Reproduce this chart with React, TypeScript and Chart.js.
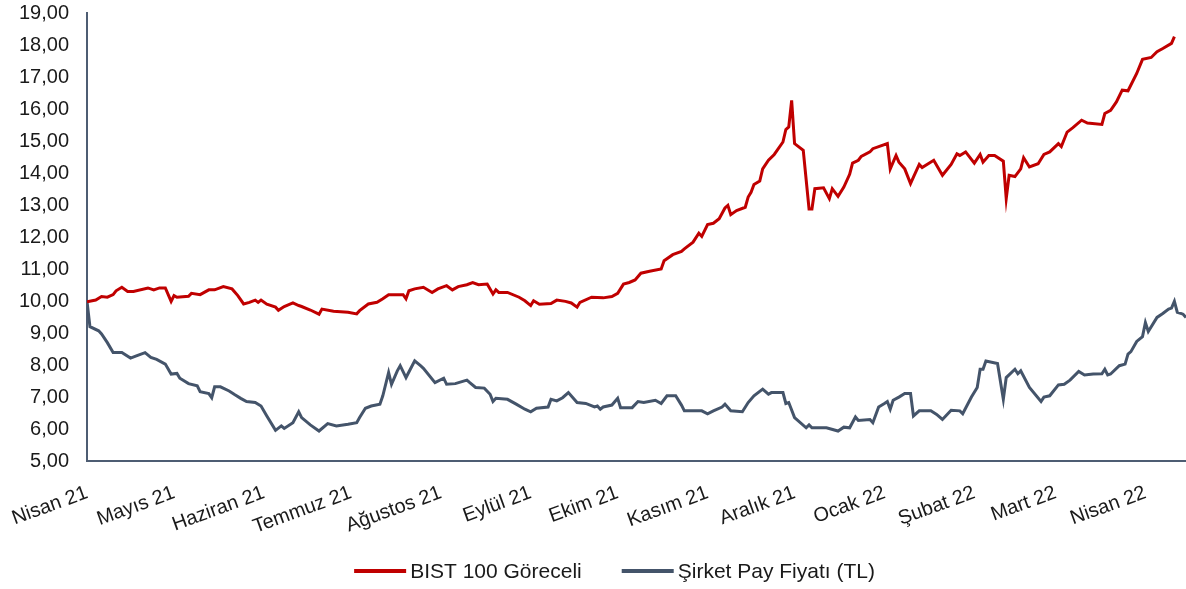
import { useEffect, useRef } from 'react';
import { Chart, registerables } from 'chart.js';

Chart.register(...registerables);

// Calendar-day offsets from 1 April 2021 for month ticks
const monthDays = [0, 30, 61, 91, 122, 153, 183, 214, 244, 275, 306, 334, 365];
const monthLabels = [
  'Nisan 21', 'Mayıs 21', 'Haziran 21', 'Temmuz 21', 'Ağustos 21', 'Eylül 21', 'Ekim 21',
  'Kasım 21', 'Aralık 21', 'Ocak 22', 'Şubat 22', 'Mart 22', 'Nisan 22',
];

const bistDays = [
  0, 3, 5, 7, 9, 10, 12, 14, 16, 21,
  23, 25, 27, 29, 30, 31, 35, 36, 39, 42,
  44, 47, 50, 52, 54, 56, 58, 59, 60, 62,
  65, 66, 68, 71, 73, 74, 77, 80, 81, 85,
  90, 93, 94, 97, 100, 102, 104, 109, 110, 111,
  113, 116, 119, 121, 124, 126, 128, 131, 133, 135,
  138, 140, 141, 142, 145, 149, 151, 153, 154, 156,
  160, 162, 165, 167, 169, 170, 174, 178, 181, 183,
  185, 187, 189, 191, 194, 198, 199, 202, 205, 206,
  209, 211, 212, 214, 216, 218, 220, 221, 222, 224,
  227, 228, 229, 230, 232, 233, 235, 237, 240, 241,
  242, 243, 244, 247, 249, 250, 251, 254, 256, 257,
  259, 261, 263, 264, 266, 267, 270, 271, 276, 277,
  279, 280, 282, 284, 285, 287, 288, 292, 295, 298,
  300, 301, 303, 306, 308, 309, 311, 313, 316, 317,
  318, 320, 322, 323, 325, 328, 330, 332, 335, 336,
  338, 340, 343, 345, 350, 351, 353, 355, 357, 359,
  362, 364, 367, 369, 371, 374, 375,
];
const bistValues = [
  9.98, 10.03, 10.14, 10.12, 10.2, 10.32, 10.43, 10.3, 10.3, 10.41,
  10.35, 10.41, 10.41, 9.99, 10.17, 10.12, 10.15, 10.24, 10.2, 10.35,
  10.35, 10.45, 10.38, 10.17, 9.91, 9.96, 10.03, 9.96, 10.03, 9.9,
  9.81, 9.71, 9.83, 9.94, 9.86, 9.83, 9.72, 9.59, 9.75, 9.68,
  9.65, 9.6, 9.7, 9.91, 9.96, 10.07, 10.2, 10.2, 10.07, 10.32,
  10.38, 10.43, 10.27, 10.38, 10.48, 10.35, 10.45, 10.51, 10.58, 10.51,
  10.53, 10.22, 10.35, 10.27, 10.27, 10.12, 10.01, 9.86, 10.01, 9.9,
  9.92, 10.03, 9.99, 9.94, 9.81, 9.96, 10.12, 10.1, 10.14, 10.24,
  10.53, 10.58, 10.66, 10.87, 10.93, 11.0, 11.26, 11.45, 11.55, 11.63,
  11.84, 12.12, 12.02, 12.39, 12.43, 12.57, 12.91, 12.99, 12.7, 12.83,
  12.93, 13.25, 13.4, 13.64, 13.75, 14.13, 14.4, 14.58, 14.97, 15.36,
  15.44, 16.27, 14.92, 14.71, 12.88, 12.88, 13.51, 13.54, 13.2, 13.51,
  13.27, 13.56, 13.96, 14.31, 14.4, 14.52, 14.66, 14.76, 14.92, 14.13,
  14.55, 14.34, 14.13, 13.67, 13.87, 14.27, 14.17, 14.4, 13.93, 14.27,
  14.6, 14.55, 14.66, 14.31, 14.58, 14.34, 14.55, 14.55, 14.37, 13.2,
  13.93, 13.89, 14.13, 14.48, 14.19, 14.29, 14.58, 14.66, 14.92, 14.83,
  15.28, 15.42, 15.65, 15.56, 15.52, 15.86, 15.96, 16.22, 16.59, 16.57,
  17.11, 17.55, 17.61, 17.79, 17.89, 18.05, 18.26,
];

const sirketDays = [
  0, 1, 4, 5, 7, 9, 12, 15, 17, 20,
  22, 24, 27, 29, 31, 32, 35, 38, 39, 42,
  43, 44, 46, 49, 51, 53, 55, 58, 60, 62,
  65, 67, 68, 71, 73, 74, 77, 80, 83, 86,
  90, 93, 94, 96, 98, 101, 102, 104, 105, 107,
  108, 110, 113, 115, 116, 120, 123, 124, 127, 131,
  132, 134, 137, 139, 140, 141, 145, 148, 151, 153,
  155, 159, 160, 162, 164, 166, 169, 172, 175, 176,
  177, 178, 181, 183, 184, 188, 190, 192, 196, 198,
  200, 203, 205, 206, 212, 214, 216, 219, 220, 222,
  226, 228, 230, 233, 235, 236, 240, 241, 242, 244,
  248, 249, 250, 255, 259, 261, 263, 265, 266, 270,
  271, 273, 275, 276, 277, 278, 280, 282, 284, 285,
  287, 291, 293, 295, 298, 301, 302, 305, 307, 308,
  309, 310, 314, 316, 317, 320, 321, 322, 325, 329,
  330, 332, 335, 337, 339, 342, 344, 347, 350, 351,
  352, 353, 356, 358, 359, 360, 362, 364, 365, 366,
  369, 371, 373, 374, 375, 376, 378, 379,
];
const sirketValues = [
  9.98, 9.2, 9.07, 8.97, 8.7, 8.39, 8.39, 8.22, 8.29, 8.39,
  8.24, 8.18, 8.03, 7.72, 7.74, 7.59, 7.42, 7.35, 7.17, 7.11,
  6.98, 7.32, 7.32, 7.19, 7.07, 6.96, 6.86, 6.83, 6.72, 6.41,
  5.96, 6.1, 6.02, 6.2, 6.54, 6.36, 6.13, 5.94, 6.17, 6.1,
  6.15, 6.2, 6.36, 6.65, 6.72, 6.78, 7.04, 7.77, 7.4, 7.82,
  7.98, 7.61, 8.13, 7.98, 7.9, 7.45, 7.59, 7.4, 7.42, 7.53,
  7.45, 7.3, 7.28, 7.09, 6.86, 6.96, 6.93, 6.78, 6.62, 6.54,
  6.65, 6.69, 6.93, 6.88, 6.98, 7.14, 6.83, 6.8, 6.69, 6.72,
  6.62, 6.69, 6.75, 6.96, 6.67, 6.67, 6.86, 6.83, 6.9, 6.8,
  7.04, 7.04, 6.75, 6.57, 6.57, 6.48, 6.57, 6.69, 6.78, 6.57,
  6.54, 6.83, 7.04, 7.25, 7.09, 7.14, 7.14, 6.8, 6.83, 6.36,
  6.04, 6.13, 6.04, 6.04, 5.94, 6.06, 6.04, 6.38, 6.27, 6.3,
  6.2, 6.69, 6.8, 6.86, 6.62, 6.9, 7.0, 7.11, 7.11, 6.41,
  6.57, 6.57, 6.46, 6.3, 6.59, 6.57, 6.48, 7.0, 7.3, 7.87,
  7.87, 8.13, 8.05, 6.93, 7.61, 7.87, 7.73, 7.82, 7.3, 6.86,
  7.0, 7.04, 7.38, 7.4, 7.53, 7.8, 7.69, 7.72, 7.73, 7.87,
  7.69, 7.72, 7.98, 8.03, 8.34, 8.42, 8.74, 8.89, 9.33, 9.05,
  9.49, 9.61, 9.75, 9.78, 9.99, 9.65, 9.59, 9.49,
];

const Y_MIN = 5;
const Y_MAX = 19;
const X_MAX = 379;

const RED = '#C00000';
const SLATE = '#44546A';
const AXIS = '#4E5D73';
const TEXT = '#1a1a1a';
const FAMILY = "'Liberation Sans', Arial, sans-serif";

// Legend drawn on the canvas below the axis labels
const bottomLegend = {
  id: 'bottomLegend',
  afterDraw(chart: any) {
    const ctx = chart.ctx as CanvasRenderingContext2D;
    const lineW = 52;
    const textGap = 4;
    const itemGap = 40;
    ctx.save();
    ctx.font = `21px ${FAMILY}`;
    ctx.textBaseline = 'middle';
    ctx.textAlign = 'left';
    const items = chart.data.datasets.map((ds: any) => ({
      label: ds.label as string,
      color: ds.borderColor as string,
      w: lineW + textGap + ctx.measureText(ds.label).width,
    }));
    const total = items.reduce((s: number, it: any) => s + it.w, 0) + itemGap * (items.length - 1);
    const cx = (chart.chartArea.left + chart.chartArea.right) / 2 - 22;
    const y = chart.height - 18;
    let x = cx - total / 2;
    for (const it of items) {
      ctx.fillStyle = it.color;
      ctx.fillRect(x, y - 2, lineW, 4);
      ctx.fillStyle = TEXT;
      ctx.fillText(it.label, x + lineW + textGap, y + 1);
      x += it.w + itemGap;
    }
    ctx.restore();
  },
};

export default function App() {
  const ref = useRef<HTMLCanvasElement>(null);

  useEffect(() => {
    const font = { family: FAMILY, size: 20 };
    const chart = new Chart(ref.current!, {
      type: 'line',
      data: {
        datasets: [
          {
            label: 'BIST 100 Göreceli',
            data: bistDays.map((d, i) => ({ x: d, y: bistValues[i] })),
            borderColor: RED,
            backgroundColor: RED,
            borderWidth: 3,
            pointRadius: 0,
            tension: 0,
          },
          {
            label: 'Şirket Pay Fiyatı (TL)',
            data: sirketDays.map((d, i) => ({ x: d, y: sirketValues[i] })),
            borderColor: SLATE,
            backgroundColor: SLATE,
            borderWidth: 3,
            pointRadius: 0,
            tension: 0,
          },
        ],
      },
      options: {
        animation: false,
        responsive: false,
        layout: { padding: { left: 18, top: 0, right: 0, bottom: 42 } },
        plugins: {
          tooltip: { enabled: false },
          legend: { display: false },
        },
        scales: {
          x: {
            type: 'linear',
            min: 0,
            max: X_MAX,
            afterBuildTicks: (axis: any) => {
              axis.ticks = monthDays.map((v) => ({ value: v }));
            },
            ticks: {
              autoSkip: false,
              minRotation: 20,
              maxRotation: 20,
              font,
              color: TEXT,
              padding: 8,
              callback: (v: any) => {
                const idx = monthDays.indexOf(Number(v));
                return idx >= 0 ? monthLabels[idx] : '';
              },
            },
            grid: { display: false, drawTicks: true, tickLength: 12 },
            border: { color: AXIS, width: 2 },
          },
          y: {
            min: Y_MIN,
            max: Y_MAX,
            ticks: {
              stepSize: 1,
              font,
              color: TEXT,
              padding: 1,
              callback: (v: any) => Number(v).toFixed(2).replace('.', ','),
            },
            grid: { display: false, drawTicks: true, tickLength: 17 },
            border: { color: AXIS, width: 2 },
          },
        },
      },
      plugins: [bottomLegend],
    } as any);
    return () => chart.destroy();
  }, []);

  return (
    <div style={{ position: 'absolute', left: 0, top: 0, width: 1186, height: 589, background: '#fff' }}>
      <canvas ref={ref} width={1186} height={589} style={{ display: 'block' }} />
    </div>
  );
}
